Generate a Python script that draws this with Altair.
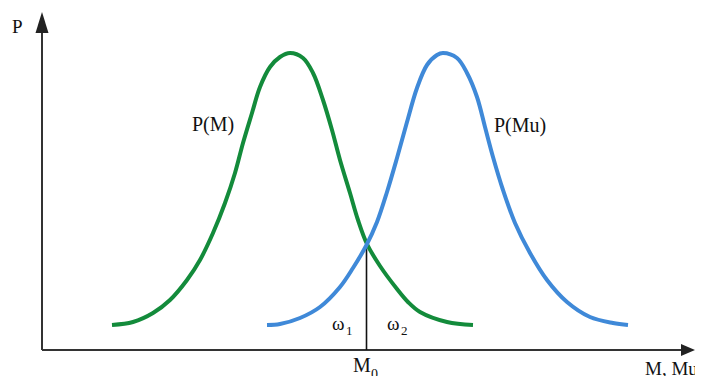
import altair as alt
import pandas as pd

# Curve P(M) (green)
green_m = [70, 91, 111, 128, 145, 158, 171, 183, 193, 201, 210, 218, 228, 238, 248,
           261, 271, 281, 290, 298, 308, 316, 325, 338, 355, 366, 378, 405, 431]
green_p = [25, 28, 37, 50, 70, 90, 117, 147, 177, 207, 237, 263, 283, 293, 297,
           292, 277, 250, 220, 190, 157, 130, 106, 84, 61, 48, 38, 28, 25]

# Curve P(Mu) (blue)
blue_m = [225, 238, 258, 278, 298, 311, 324, 335, 345, 355, 365, 375, 385, 395, 401,
          415, 425, 435, 443, 451, 461, 473, 488, 505, 525, 548, 571, 586]
blue_p = [25, 26, 32, 43, 63, 82, 104, 128, 158, 192, 228, 262, 285, 295, 297,
          292, 277, 253, 223, 193, 160, 127, 97, 70, 48, 33, 27, 25]

# threshold M0 and its curve crossing
m0 = 324.5
p_cross = 105

# axes extents
x_axis_end = 640
y_axis_end = 317
arrow_x = 646
arrow_y = 327.5

# labels
lab_text = ["P", "P(M)", "P(Mu)", "ω", "1", "ω", "2", "M", "0", "M, Mu"]
lab_x = [-30, 150, 452, 290, 304, 345, 359, 311, 329, 603]
lab_y = [317, 219, 218, 20, 15, 20, 15, -22, -29, -25]
lab_size = [19, 20, 20, 19, 13, 19, 13, 20, 14, 19]

X_DOM = [-34, 653]
Y_DOM = [-26, 342]
xs = alt.Scale(domain=X_DOM, nice=False, zero=False)
ys = alt.Scale(domain=Y_DOM, nice=False, zero=False)

curves = pd.DataFrame(
    {"m": green_m + blue_m,
     "p": green_p + blue_p,
     "s": ["P(M)"] * len(green_m) + ["P(Mu)"] * len(blue_m)}
)

lines = alt.Chart(curves).mark_line(strokeWidth=4, interpolate="catmull-rom").encode(
    x=alt.X("m:Q", scale=xs, axis=None),
    y=alt.Y("p:Q", scale=ys, axis=None),
    color=alt.Color("s:N", scale=alt.Scale(domain=["P(M)", "P(Mu)"],
                                           range=["#138b3b", "#3f89d8"]), legend=None),
    detail="s:N",
)

axes_df = pd.DataFrame({
    "x1": [0, 0], "y1": [0, 0],
    "x2": [x_axis_end, 0], "y2": [0, y_axis_end],
})
axes = alt.Chart(axes_df).mark_rule(color="#333333", strokeWidth=2).encode(
    x=alt.X("x1:Q", scale=xs, axis=None), y=alt.Y("y1:Q", scale=ys, axis=None),
    x2="x2:Q", y2="y2:Q",
)

arrows_up = alt.Chart(pd.DataFrame({"x": [0], "y": [arrow_y]})).mark_point(
    shape="M0,-1L0.62,1L-0.62,1Z", size=441, filled=True, opacity=1, color="#222222"
).encode(x=alt.X("x:Q", scale=xs, axis=None), y=alt.Y("y:Q", scale=ys, axis=None))

arrows_right = alt.Chart(pd.DataFrame({"x": [arrow_x], "y": [0]})).mark_point(
    shape="M1,0L-1,-0.86L-1,0.86Z", size=196, filled=True, opacity=1, color="#222222"
).encode(x=alt.X("x:Q", scale=xs, axis=None), y=alt.Y("y:Q", scale=ys, axis=None))

vline = alt.Chart(pd.DataFrame({"x": [m0], "y1": [0], "y2": [p_cross]})).mark_rule(
    color="#111111", strokeWidth=1.6
).encode(x=alt.X("x:Q", scale=xs, axis=None), y=alt.Y("y1:Q", scale=ys, axis=None), y2="y2:Q")

labels_df = pd.DataFrame({"t": lab_text, "x": lab_x, "y": lab_y, "fs": lab_size})
labels = alt.Chart(labels_df).mark_text(
    font="Liberation Serif", align="left", baseline="alphabetic", color="#111111"
).encode(
    x=alt.X("x:Q", scale=xs, axis=None),
    y=alt.Y("y:Q", scale=ys, axis=None),
    text="t:N",
    size=alt.Size("fs:Q", scale=None, legend=None),
)

chart = alt.layer(axes, vline, lines, arrows_up, arrows_right, labels).properties(
    width=687, height=368, padding=0, autosize="none", background="white"
).configure_view(stroke=None)

chart.save("out.html", embed_options={"renderer": "svg", "actions": False})
